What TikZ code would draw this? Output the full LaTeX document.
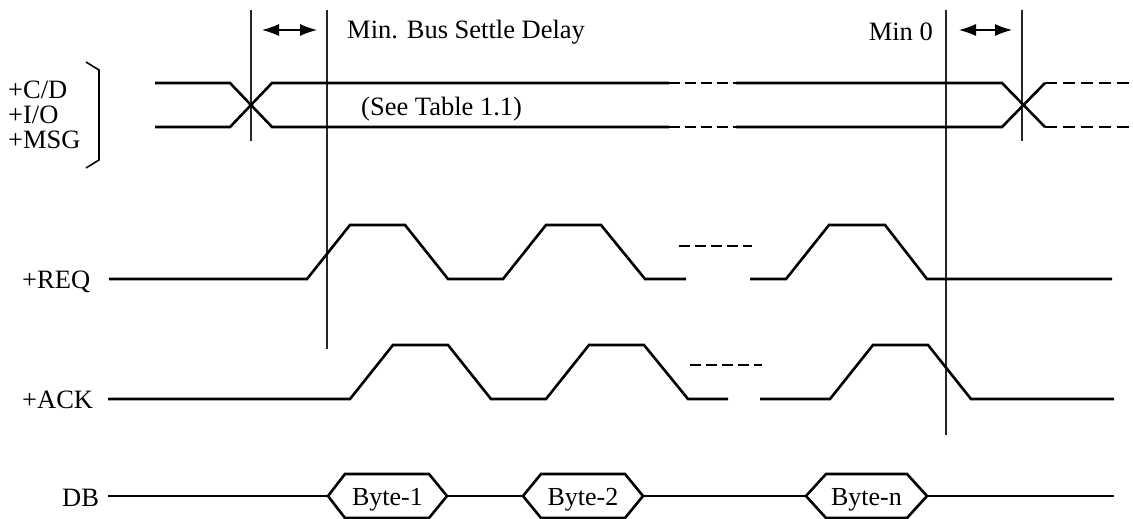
\documentclass[tikz,border=0pt]{standalone}
\usepackage{fontspec}
\setmainfont{Liberation Serif}
\usetikzlibrary{arrows.meta}
\begin{document}
\begin{tikzpicture}[x=1pt,y=-1pt,
  sig/.style={line width=2.6pt,line join=miter,line cap=butt},
  dsh/.style={line width=2.8pt,dash pattern=on 11pt off 5pt},
  vline/.style={line width=1.2pt,black!85},
  dimarrow/.style={line width=1.2pt,{Latex[length=17pt,width=12pt]}-{Latex[length=17pt,width=12pt]}},
  lbl/.style={inner sep=0pt,font=\fontsize{26.5}{30}\selectfont},
  hexlbl/.style={inner sep=0pt,font=\fontsize{26}{30}\selectfont}]
\useasboundingbox (0,0) rectangle (1133,519);

% ---- vertical reference lines
\draw[vline] (251,10) -- (251,141);
\draw[vline] (327,10) -- (327,349);
\draw[vline] (946,10) -- (946,435);
\draw[vline] (1022,10) -- (1022,141);

% ---- dimension arrows and texts
\draw[dimarrow] (262,30) -- (317,30);
\draw[dimarrow] (959,30) -- (1012,30);
\node[lbl,anchor=base west] (settle) at (347,39) {Min. Bus Settle Delay};
\node[lbl,anchor=base east] (min0) at (933,41) {Min 0};

% ---- bus signals +C/D +I/O +MSG
\node[lbl,anchor=base west] (cd) at (8,99) {+C/D};
\node[lbl,anchor=base west] (io) at (8,123.5) {+I/O};
\node[lbl,anchor=base west] (msg) at (8,148) {+MSG};
\draw[line width=1.6pt] (86,62) -- (99,70) -- (99,160) -- (86,168);

\draw[sig] (155,83) -- (230,83) -- (272,127) -- (669,127);
\draw[sig] (155,127) -- (230,127) -- (272,83) -- (669,83);
\draw[dsh] (669,83) -- (736,83);
\draw[dsh] (669,127) -- (736,127);
\draw[sig] (736,83) -- (1002,83) -- (1045,127);
\draw[sig] (736,127) -- (1002,127) -- (1045,83);
\draw[dsh,dash pattern=on 12pt off 6pt] (1045,83) -- (1133,83);
\draw[dsh,dash pattern=on 12pt off 6pt] (1045,127) -- (1133,127);
\node[lbl,anchor=base west] (see) at (361,115) {(See Table 1.1)};

% ---- +REQ
\node[lbl,anchor=base west] (req) at (22,288) {+REQ};
\draw[sig] (109,279) -- (307,279) -- (350,225) -- (405,225) -- (448,279)
  -- (503,279) -- (546,225) -- (601,225) -- (645,279) -- (686,279);
\draw[dsh] (679,246) -- (752,246);
\draw[sig] (750,279) -- (786,279) -- (829,225) -- (885,225) -- (927,279) -- (1112,279);

% ---- +ACK
\node[lbl,anchor=base west] (ack) at (22,408) {+ACK};
\draw[sig] (108,399) -- (350,399) -- (393,345) -- (448,345) -- (491,399)
  -- (546,399) -- (589,345) -- (644,345) -- (688,399) -- (728,399);
\draw[dsh] (690,365) -- (762,365);
\draw[sig] (760,399) -- (830,399) -- (873,345) -- (928,345) -- (971,399) -- (1114,399);

% ---- DB
\node[lbl,anchor=base west] (db) at (62,506) {DB};
\draw[sig] (108,496) -- (328,496);
\draw[sig] (447,496) -- (523,496);
\draw[sig] (643,496) -- (806,496);
\draw[sig] (927,496) -- (1114,496);
\draw[sig] (328,496) -- (345,474) -- (429,474) -- (447,496) -- (429,518) -- (345,518) -- cycle;
\draw[sig] (523,496) -- (541,474) -- (625,474) -- (643,496) -- (625,518) -- (541,518) -- cycle;
\draw[sig] (806,496) -- (826,474) -- (907,474) -- (927,496) -- (907,518) -- (826,518) -- cycle;
\node[hexlbl,anchor=base] (b1) at (387.5,505) {Byte-1};
\node[hexlbl,anchor=base] (b2) at (583,505) {Byte-2};
\node[hexlbl,anchor=base] (bn) at (866.5,505) {Byte-n};
\end{tikzpicture}
\end{document}
